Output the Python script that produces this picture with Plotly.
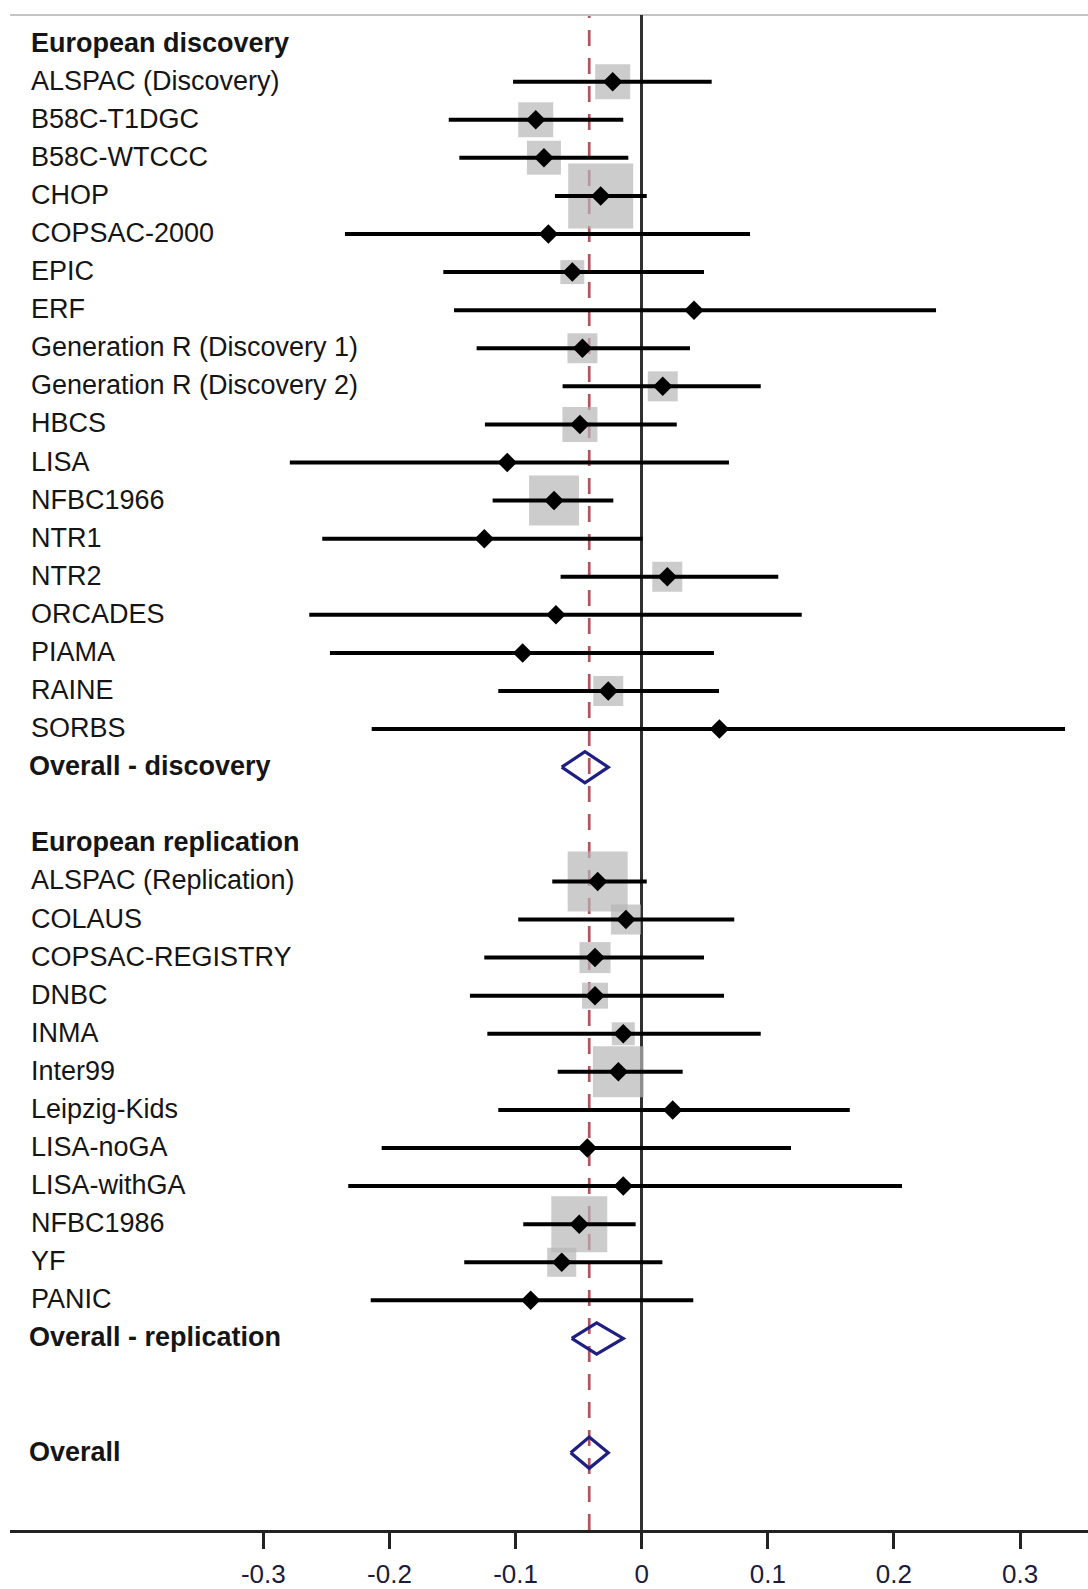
import math
import plotly.graph_objects as go

# ---- European discovery cohorts ----
disc_studies = [
    "ALSPAC (Discovery)", "B58C-T1DGC", "B58C-WTCCC", "CHOP", "COPSAC-2000",
    "EPIC", "ERF", "Generation R (Discovery 1)", "Generation R (Discovery 2)",
    "HBCS", "LISA", "NFBC1966", "NTR1", "NTR2", "ORCADES", "PIAMA", "RAINE", "SORBS",
]
disc_est = [-0.023, -0.084, -0.0775, -0.0325, -0.074, -0.055, 0.0415, -0.047, 0.0167,
            -0.049, -0.1066, -0.0695, -0.1248, 0.0203, -0.068, -0.0944, -0.0265, 0.0616]
disc_lo = [-0.102, -0.153, -0.1446, -0.0688, -0.2353, -0.1573, -0.1488, -0.1309, -0.0627,
           -0.1243, -0.279, -0.1182, -0.2533, -0.0643, -0.2636, -0.2472, -0.1137, -0.2141]
disc_hi = [0.0555, -0.0146, -0.0106, 0.004, 0.0859, 0.0494, 0.2334, 0.0383, 0.0944,
           0.0278, 0.0692, -0.0225, 0.0008, 0.1083, 0.1269, 0.0573, 0.0613, 0.3357]
disc_weight = [21.8, 21.8, 20.6, 75.1, 1.1, 10.2, 1.1, 16.0, 16.0,
               21.8, 1.1, 44.4, 1.1, 16.0, 1.1, 1.1, 16.0, 1.1]

# ---- European replication cohorts ----
rep_studies = [
    "ALSPAC (Replication)", "COLAUS", "COPSAC-REGISTRY", "DNBC", "INMA", "Inter99",
    "Leipzig-Kids", "LISA-noGA", "LISA-withGA", "NFBC1986", "YF", "PANIC",
]
rep_est = [-0.0349, -0.0125, -0.037, -0.037, -0.0146, -0.0185,
           0.0246, -0.0431, -0.0146, -0.0495, -0.0634, -0.088]
rep_lo = [-0.0709, -0.0979, -0.1248, -0.1362, -0.1224, -0.0666,
          -0.1137, -0.2062, -0.2327, -0.0939, -0.1407, -0.2149]
rep_hi = [0.004, 0.0734, 0.0494, 0.0653, 0.0944, 0.0325,
          0.165, 0.1184, 0.2064, -0.0048, 0.0164, 0.0409]
rep_weight = [64.0, 16.0, 17.1, 12.0, 9.4, 46.2,
              1.1, 1.1, 1.1, 55.8, 15.0, 1.1]

# ---- pooled estimates ----
summary_labels = ["Overall - discovery", "Overall - replication", "Overall"]
summary_est = [-0.045, -0.0357, -0.0416]
summary_lo = [-0.0634, -0.0555, -0.0563]
summary_hi = [-0.0265, -0.0146, -0.0265]

group_headers = ["European discovery", "European replication"]

tick_vals = [-0.3, -0.2, -0.1, 0, 0.1, 0.2, 0.3]
tick_text = ["-0.3", "-0.2", "-0.1", "0", "0.1", "0.2", "0.3"]

# ---- row layout (0 = top row) ----
disc_header_row = 0
disc_rows = list(range(1, 1 + len(disc_studies)))
disc_summary_row = disc_rows[-1] + 1
rep_header_row = disc_summary_row + 2
rep_rows = list(range(rep_header_row + 1, rep_header_row + 1 + len(rep_studies)))
rep_summary_row = rep_rows[-1] + 1
overall_row = rep_summary_row + 3
summary_rows = [disc_summary_row, rep_summary_row, overall_row]

study_rows = disc_rows + rep_rows
study_est = disc_est + rep_est
study_lo = disc_lo + rep_lo
study_hi = disc_hi + rep_hi
study_weight = disc_weight + rep_weight
box_sides = [7.5 * math.sqrt(w) for w in study_weight]

fig = go.Figure()

# weight boxes
fig.add_trace(go.Scatter(
    x=study_est, y=study_rows, mode="markers",
    marker=dict(symbol="square", size=box_sides, color="#b6b6b6", line=dict(width=0)),
    hoverinfo="skip", showlegend=False,
))

# confidence intervals + point estimates
fig.add_trace(go.Scatter(
    x=study_est, y=study_rows, mode="markers",
    marker=dict(symbol="diamond", size=15, color="#000000", line=dict(width=0)),
    error_x=dict(
        type="data", symmetric=False,
        array=[h - e for h, e in zip(study_hi, study_est)],
        arrayminus=[e - l for e, l in zip(study_est, study_lo)],
        color="#000000", thickness=4, width=0,
    ),
    hoverinfo="skip", showlegend=False,
))

# pooled-estimate diamonds
half_h = 0.41
dx, dy = [], []
for est, lo, hi, r in zip(summary_est, summary_lo, summary_hi, summary_rows):
    dx += [lo, est, hi, est, lo, None]
    dy += [r, r - half_h, r, r + half_h, r, None]
fig.add_trace(go.Scatter(
    x=dx, y=dy, mode="lines",
    line=dict(color="#1e1f82", width=3.2),
    hoverinfo="skip", showlegend=False,
))

# row labels
label_font = dict(family="Liberation Sans, Arial, sans-serif", size=27, color="#151515")
annotations = []
for txt, r in zip(group_headers, [disc_header_row, rep_header_row]):
    annotations.append(dict(text=f"<b>{txt}</b>", x=0.018, y=r))
for txt, r in zip(disc_studies + rep_studies, study_rows):
    annotations.append(dict(text=txt, x=0.018, y=r))
for txt, r in zip(summary_labels, summary_rows):
    annotations.append(dict(text=f"<b>{txt}</b>", x=0.016, y=r))
for a in annotations:
    a.update(xref="paper", yref="y", xanchor="left", yanchor="middle",
             showarrow=False, font=label_font, yshift=1)

shapes = [
    # line at the pooled overall estimate
    dict(type="line", xref="x", yref="paper", x0=summary_est[2], x1=summary_est[2],
         y0=0, y1=1, layer="below",
         line=dict(color="#b4525e", width=2.7, dash="16px,12px")),
    # light frame line along the top
    dict(type="line", xref="paper", yref="paper", x0=0, x1=1, y0=1, y1=1,
         layer="below", line=dict(color="#c4c4c4", width=2)),
]

fig.update_layout(
    width=1088, height=1589,
    template="none",
    paper_bgcolor="white", plot_bgcolor="white",
    margin=dict(l=10, r=0, t=15, b=59),
    showlegend=False,
    annotations=annotations,
    shapes=shapes,
    xaxis=dict(
        range=[-0.5009, 0.3539], automargin=False,
        showgrid=False,
        zeroline=True, zerolinecolor="#303030", zerolinewidth=2.5,
        showline=True, linecolor="#222222", linewidth=3,
        ticks="outside", ticklen=16, tickwidth=3, tickcolor="#222222",
        tickvals=tick_vals, ticktext=tick_text,
        tickfont=dict(family="Liberation Sans, Arial, sans-serif", size=26, color="#1c1c3a"),
        ticklabelstandoff=3,
        fixedrange=True,
    ),
    yaxis=dict(
        range=[39.03, -0.751], visible=False, automargin=False,
        showgrid=False, zeroline=False, fixedrange=True,
    ),
)

fig.write_html("out.html")
